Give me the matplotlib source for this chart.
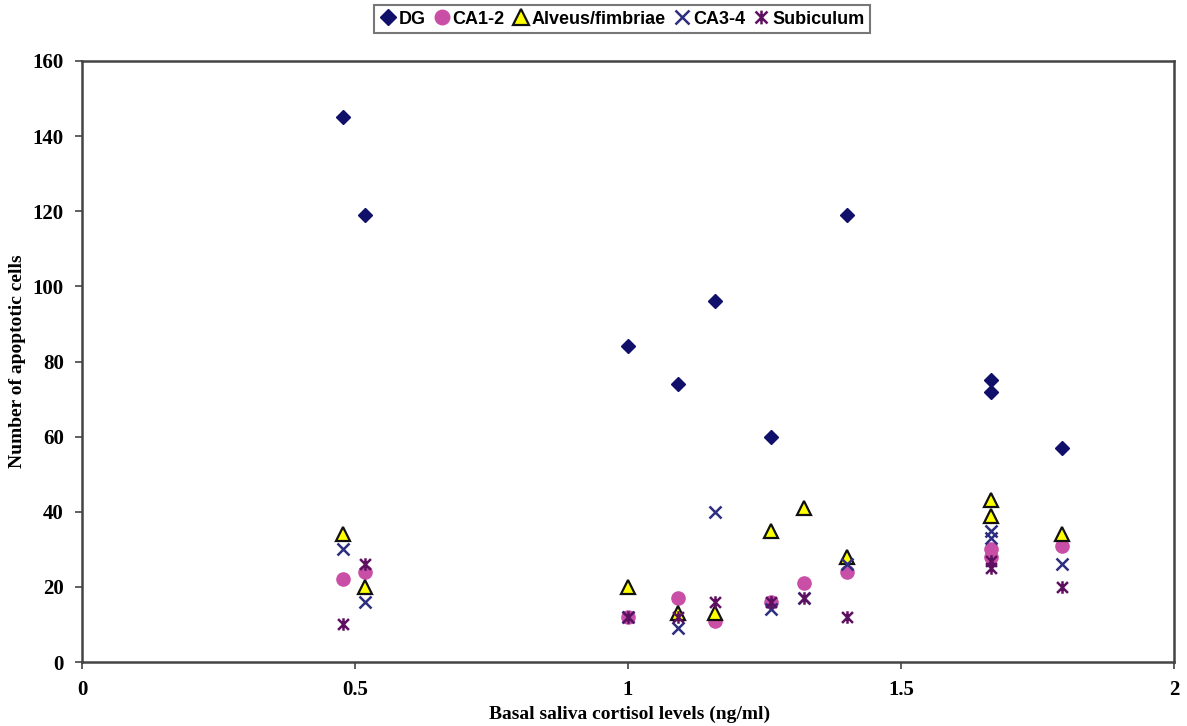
import matplotlib
matplotlib.use("Agg")
import matplotlib.pyplot as plt
from matplotlib.path import Path

# Data
dg_x = [0.478, 0.518, 1.0, 1.091, 1.16, 1.261, 1.402, 1.665, 1.665, 1.795]
dg_y = [145, 119, 84, 74, 96, 60, 119, 75, 72, 57]

ca12_x = [0.478, 0.518, 1.0, 1.091, 1.16, 1.261, 1.322, 1.402, 1.665, 1.665, 1.795]
ca12_y = [22, 24, 12, 17, 11, 16, 21, 24, 30, 28, 31]

alv_x = [0.478, 0.518, 1.0, 1.091, 1.16, 1.261, 1.322, 1.402, 1.665, 1.665, 1.795]
alv_y = [34, 20, 20, 13, 13, 35, 41, 28, 43, 39, 34]

ca34_x = [0.478, 0.518, 1.0, 1.091, 1.16, 1.261, 1.322, 1.402, 1.665, 1.665, 1.795]
ca34_y = [30, 16, 12, 9, 40, 14, 17, 26, 35, 33, 26]

sub_x = [0.478, 0.518, 1.0, 1.091, 1.16, 1.261, 1.322, 1.402, 1.665, 1.665, 1.795]
sub_y = [10, 26, 12, 12, 16, 16, 17, 12, 27, 25, 20]

x_ticks = [0, 0.5, 1, 1.5, 2]
x_ticklabels = ["0", "0.5", "1", "1.5", "2"]
y_ticks = [0, 20, 40, 60, 80, 100, 120, 140, 160]

# Excel-like asterisk marker: X with vertical stroke
ast = Path([(-1, -1), (1, 1), (-1, 1), (1, -1), (0, -1.15), (0, 1.15)],
           [Path.MOVETO, Path.LINETO, Path.MOVETO, Path.LINETO, Path.MOVETO, Path.LINETO])

fig = plt.figure(figsize=(11.87, 7.26), dpi=100)
ax = fig.add_axes([82/1187, 1 - 662/726, (1174 - 82)/1187, (662 - 61)/726])

ax.plot(dg_x, dg_y, ls="none", marker="D", ms=7.5, color="#10106a", mec="#10106a", label="DG", zorder=3)
ax.plot(ca12_x, ca12_y, ls="none", marker="o", ms=9.5, color="#c94fa6", mec="#c94fa6", label="CA1-2", zorder=3)
ax.plot(alv_x, alv_y, ls="none", marker="^", ms=10, mfc="#ffff00", mec="#111111", mew=1.6, label="Alveus/fimbriae", zorder=4)
ax.plot(ca34_x, ca34_y, ls="none", marker="x", ms=9, mew=1.8, color="#2e2e80", label="CA3-4", zorder=5)
ax.plot(sub_x, sub_y, ls="none", marker=ast, ms=9, mew=1.8, color="#5e1060", label="Subiculum", zorder=6)

ax.set_xlim(0, 2)
ax.set_ylim(0, 160)
ax.set_xticks(x_ticks)
ax.set_xticklabels(x_ticklabels)
ax.set_yticks(y_ticks)

for s in ax.spines.values():
    s.set_color("#444444")
    s.set_linewidth(1.8)

ax.tick_params(direction="out", length=5, width=1.2, color="#444444", pad=8)
for lab in ax.get_xticklabels() + ax.get_yticklabels():
    lab.set_fontfamily("Liberation Serif")
    lab.set_fontweight("bold")
    lab.set_fontsize(15)

fig.text(630/1187, 1 - 714/726, "Basal saliva cortisol levels (ng/ml)", ha="center", va="center",
         fontfamily="Liberation Serif", fontweight="bold", fontsize=14)
fig.text(18/1187, 1 - 361/726, "Number of apoptotic cells", ha="center", va="center", rotation=90,
         fontfamily="Liberation Serif", fontweight="bold", fontsize=14)

leg = fig.legend(loc="center", bbox_to_anchor=(622/1187, 1 - 19/726), ncol=5,
                 frameon=True, fancybox=False, edgecolor="#555555",
                 handlelength=0.9, handletextpad=0.15, columnspacing=0.45,
                 borderpad=0.3, markerscale=1.1,
                 prop={"family": "Liberation Sans", "weight": "bold", "size": 13})
leg.get_frame().set_linewidth(1.5)

fig.savefig("out.png", dpi=100)
